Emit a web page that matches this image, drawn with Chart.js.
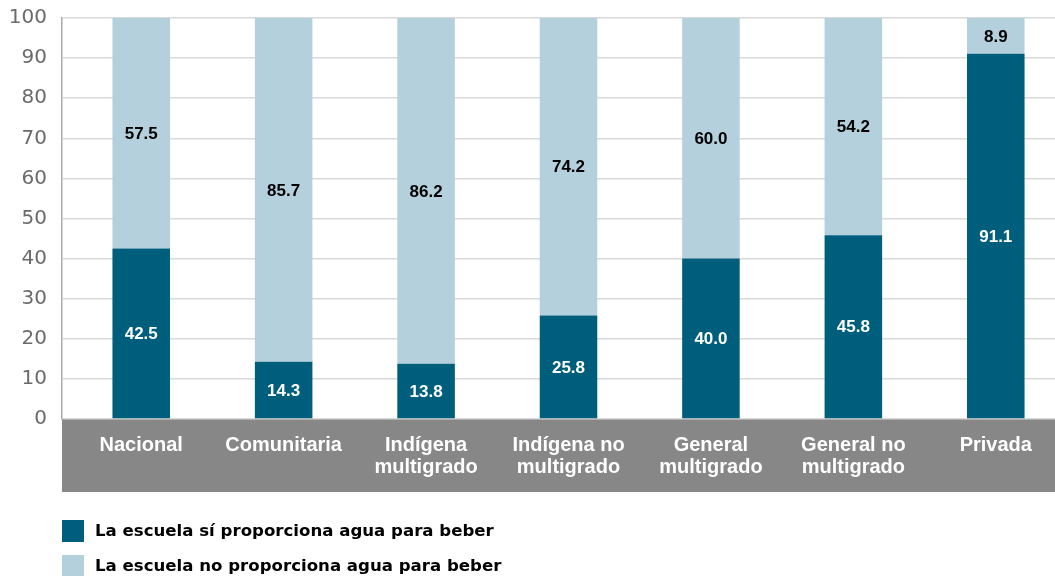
<!DOCTYPE html>
<html><head><meta charset="utf-8">
<script src="https://cdn.jsdelivr.net/npm/chart.js@4"></script>
<style>html,body{margin:0;padding:0;background:#fff}#wrap{width:1055px;height:576px;position:relative}</style>
</head><body><div id="wrap"><canvas id="c" width="1055" height="576"></canvas></div>
<script>
const categories = [['Nacional'], ['Comunitaria'], ['Indígena','multigrado'], ['Indígena no','multigrado'], ['General','multigrado'], ['General no','multigrado'], ['Privada']];
const siProporciona = [42.5, 14.3, 13.8, 25.8, 40.0, 45.8, 91.1];
const noProporciona = [57.5, 85.7, 86.2, 74.2, 60.0, 54.2, 8.9];
const seriesNames = ['La escuela sí proporciona agua para beber', 'La escuela no proporciona agua para beber'];
const yTicks = [0,10,20,30,40,50,60,70,80,90,100];

const FONT = "'Liberation Sans', Arial, sans-serif";
const DARK = '#005e7d', LIGHT = '#b3d0dc', BAND = '#878787';

const bandPlugin = {
  id: 'band',
  afterLayout(chart) {
    const ca = chart.chartArea;
    ca.top = 18; ca.height = ca.bottom - ca.top;
    const y = chart.scales.y;
    y.top = 18; y.height = y.bottom - y.top;
    y.configure();
    // category slots start slightly right of the value axis, as in the reference
    const x = chart.scales.x;
    x.left = 70; x.right = 1067; x.width = x.right - x.left;
    x.configure();
  },
  beforeDraw(chart) {
    const {ctx, chartArea} = chart;
    const x = chart.scales.x;
    ctx.save();
    ctx.fillStyle = BAND;
    ctx.fillRect(chartArea.left, chartArea.bottom, chart.width - chartArea.left, x.bottom - x.top);
    ctx.restore();
  }
};
const labelPlugin = {
  id: 'vals',
  afterDatasetsDraw(chart) {
    const {ctx} = chart;
    ctx.save();
    ctx.font = 'bold 17px ' + FONT;
    ctx.textAlign = 'center';
    ctx.textBaseline = 'middle';
    chart.data.datasets.forEach((ds, di) => {
      const meta = chart.getDatasetMeta(di);
      meta.data.forEach((bar, i) => {
        const v = ds.data[i];
        const yc = (bar.y + bar.base) / 2;
        ctx.fillStyle = di === 0 ? '#ffffff' : '#000000';
        ctx.fillText(v.toFixed(1), bar.x, yc + 1);
      });
    });
    ctx.restore();
  }
};
const legendPlugin = {
  id: 'customLegend',
  afterDraw(chart) {
    const {ctx, chartArea} = chart;
    ctx.save();
    ctx.font = "bold 16.6px 'DejaVu Sans', sans-serif";
    ctx.textBaseline = 'middle';
    ctx.textAlign = 'left';
    const rows = [531, 566];
    chart.data.datasets.forEach((ds, di) => {
      const y = rows[di];
      ctx.fillStyle = ds.backgroundColor;
      ctx.fillRect(chartArea.left, y - 11, 22, 22);
      ctx.fillStyle = '#000';
      ctx.fillText(ds.label, chartArea.left + 33, y + 1);
    });
    ctx.restore();
  }
};

new Chart(document.getElementById('c'), {
  type: 'bar',
  data: {
    labels: categories,
    datasets: [
      {label: seriesNames[0], data: siProporciona, backgroundColor: DARK, barPercentage: 0.404, categoryPercentage: 1},
      {label: seriesNames[1], data: noProporciona, backgroundColor: LIGHT, barPercentage: 0.404, categoryPercentage: 1}
    ]
  },
  options: {
    responsive: false,
    animation: false,
    devicePixelRatio: 1,
    layout: {padding: {top: 0, right: 0, left: 0, bottom: 84}},
    plugins: {legend: {display: false}, tooltip: {enabled: false}},
    scales: {
      x: {
        stacked: true,
        grid: {display: false, drawTicks: false},
        border: {display: false},
        ticks: {color: '#ffffff', font: {family: FONT, size: 20, weight: 'bold', lineHeight: 1.12}, padding: 15, maxRotation: 0, autoSkip: false},
        afterFit(s) { s.height = 73; }
      },
      y: {
        stacked: true,
        min: 0, max: 100,
        afterBuildTicks(s) { s.ticks = yTicks.map(v => ({value: v})); },
        grid: {color: '#d9d9d9', lineWidth: 1.5, drawTicks: false},
        border: {display: true, color: '#aaaaaa', width: 1.5},
        ticks: {color: '#6a6a6a', font: {family: "'DejaVu Sans', sans-serif", size: 20}, padding: 15},
        afterFit(s) { s.width = 62; }
      }
    }
  },
  plugins: [bandPlugin, labelPlugin, legendPlugin]
});
</script></body></html>
